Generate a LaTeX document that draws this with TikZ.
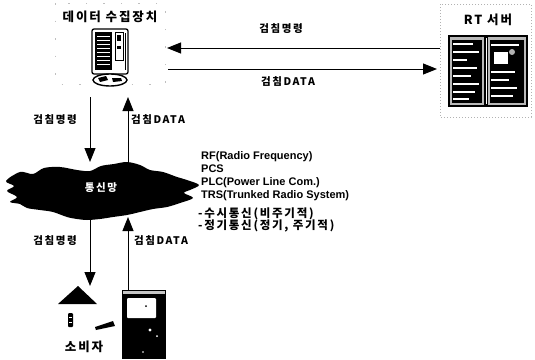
\documentclass[tikz,border=0pt]{standalone}
\usepackage{fontspec}
\setmainfont{Liberation Sans}
\newfontfamily\kr[LetterSpace=15]{Noto Sans CJK KR}
\usetikzlibrary{arrows.meta}
\begin{document}
\begin{tikzpicture}[x=1pt,y=-1pt,
  arr/.style={line width=1pt, -{Triangle[length=14pt,width=11pt]}},
  krlab/.style={font=\kr\bfseries\fontsize{10.5}{12}\selectfont, inner sep=0pt},
  title/.style={font=\kr\bfseries\fontsize{12.5}{14}\selectfont, inner sep=0pt},
  media/.style={font=\bfseries\fontsize{11}{13}\selectfont, inner sep=0pt, anchor=base west},
  krmedia/.style={font=\kr\bfseries\fontsize{11.5}{13}\selectfont, inner sep=0pt, anchor=base west},
  frame/.style={gray!60, line width=.5pt, dash pattern=on 1pt off 2pt},
  sparse/.style={gray!50, line width=.6pt, dash pattern=on 1.5pt off 16pt}
]
\useasboundingbox (0,0) rectangle (535,359);

% ---------- data collector ----------
\draw[sparse] (55,3) rectangle (165,84);
\node[title] (colname) at (110,17) {데이터 수집장치};
\node[minimum width=40pt, minimum height=60pt, inner sep=0pt] (col) at (110,57) {};
% tower
\draw[line width=1.3pt, rounded corners=2pt, fill=white] (92,29) rectangle (128,74);
\fill (95,32) rectangle (112,70);
\foreach \yy in {36,40,...,66} \draw[white, line width=.8pt] (97,\yy) -- (110,\yy);
\draw[line width=.9pt] (115,32) rectangle (123,60);
\fill (117,35) rectangle (121,41);
\fill (117,46) rectangle (121,49);
\draw[line width=.8pt] (125,33) -- (125,70);
% modem under the tower
\draw[line width=1.4pt, fill=white] (110,80) ellipse (17pt and 6pt);
\fill (98,78) -- (106,76) -- (108,80) -- (100,82) -- cycle;
\fill (112,78) -- (121,78) -- (122,81) -- (113,82) -- cycle;

% ---------- RT server ----------
\draw[frame] (440,4) rectangle (531,117);
\node[title] (srvname) at (488,20) {RT 서버};
\node[minimum width=80pt, minimum height=72pt, inner sep=0pt] (srv) at (488,71) {};
\fill (448,35) rectangle (528,107);
\fill[gray!55] (450,37) rectangle (484,105);
\fill[gray!55] (488,37) rectangle (526,105);
\fill (452,40) rectangle (482,103);
\fill (490,40) rectangle (524,103);
\foreach \yy/\ll in {44/20,52/26,60/14,68/24,76/18,84/26,92/22,99/16}
  \draw[white, line width=1.2pt] (453,\yy) -- ++(\ll,0);
\foreach \yy/\ll in {45/28,72/24,80/18,88/26,96/22}
  \draw[white, line width=1.2pt] (491,\yy) -- ++(\ll,0);
\fill[white] (494,52) rectangle (508,64);
\fill[gray!60] (512,52) circle (3pt);
\draw[white, line width=.8pt] (486,38) -- (486,104);

% ---------- horizontal connectors ----------
\coordinate (srvA) at (440,48);
\coordinate (colA) at (167,48);
\coordinate (colB) at (168,69);
\coordinate (srvB) at (437,69);
\draw[arr] (srvA) -- (colA);
\draw[arr] (colB) -- (srvB);
\node[krlab] (cmd0) at (281,29) {검침명령};
\node[krlab] (dat0) at (288,82) {검침DATA};

% ---------- network cloud ----------
\fill plot[smooth cycle, tension=.55] coordinates {
  (6,181) (20,172) (33,174) (44,168) (60,167) (77,170) (90,171)
  (101,166) (114,164) (127,162) (140,165) (150,170) (163,172)
  (177,177) (187,180) (199,185) (190,190) (184,193) (193,198)
  (180,203) (167,207) (153,209) (140,212) (127,215) (113,217)
  (100,219) (87,220) (77,219) (67,217) (53,212) (40,210)
  (27,208) (20,204) (10,202) (17,197) (7,191) (14,186)};
\node[font=\kr\bfseries\fontsize{10.5}{12}\selectfont, text=white, inner sep=0pt] (net) at (101,188) {통신망};

% ---------- vertical connectors ----------
\coordinate (colL) at (90,97);
\coordinate (netTL) at (90,162);
\coordinate (netTR) at (128,163);
\coordinate (colR) at (128,97);
\coordinate (netBL) at (90,220);
\coordinate (homeT) at (90,286);
\coordinate (meterT) at (128,290);
\coordinate (netBR) at (128,217);
\draw[arr] (colL) -- (netTL);
\draw[arr] (netTR) -- (colR);
\draw[arr] (netBL) -- (homeT);
\draw[arr] (meterT) -- (netBR);
\node[krlab] (cmd1) at (55,120) {검침명령};
\node[krlab] (dat1) at (158,120) {검침DATA};
\node[krlab] (cmd2) at (55,241) {검침명령};
\node[krlab] (dat2) at (161,241) {검침DATA};

% ---------- communication media ----------
\node[media] (m1) at (201,159) {RF(Radio Frequency)};
\node[media] (m2) at (201,172) {PCS};
\node[media] (m3) at (201,185) {PLC(Power Line Com.)};
\node[media] (m4) at (201,198) {TRS(Trunked Radio System)};
\node[krmedia] (m5) at (198,217) {-수시통신(비주기적)};
\node[krmedia] (m6) at (198,229) {-정기통신(정기, 주기적)};

% ---------- consumer ----------
\fill (58,304) -- (78,286) -- (97,304) -- cycle;
\fill[rounded corners=1pt] (68,313) rectangle (73,327);
\draw[white, line width=.6pt] (69,317) -- (72,317) (69,322) -- (72,322);
\fill (95,327) -- (113,321) -- (115,326) -- (96,330) -- cycle;
\node[title] (home) at (84,347) {소비자};

% meter
\fill (122,290) rectangle (166,359);
\fill[gray!45] (123,291) rectangle (165,294);
\fill[white, rounded corners=1pt] (127,298) rectangle (156,318);
\fill (146,306) circle (1pt);
\fill[white] (150,330) circle (1.6pt);
\fill[white] (157,336) circle (1pt);
\fill[white] (143,352) circle (.8pt);
\end{tikzpicture}
\end{document}
